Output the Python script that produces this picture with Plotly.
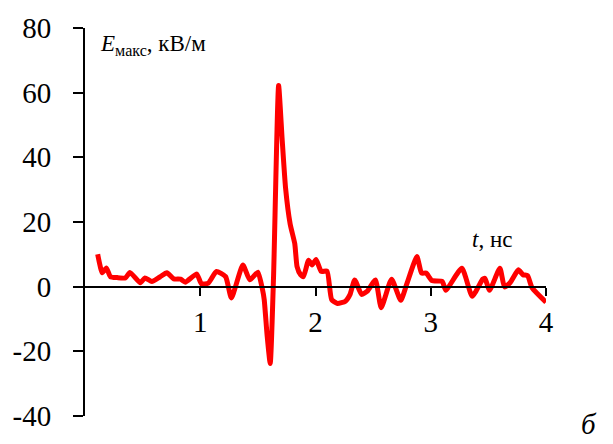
import plotly.graph_objects as go

t_ns = [0.11, 0.15, 0.185, 0.22, 0.28, 0.35, 0.39, 0.48, 0.52, 0.58, 0.65, 0.71, 0.77, 0.83, 0.87,
        0.97, 1.01, 1.07, 1.14, 1.22, 1.27, 1.37, 1.43, 1.50, 1.54, 1.555, 1.58, 1.607, 1.636,
        1.68, 1.71, 1.74, 1.78, 1.82, 1.84, 1.87, 1.895, 1.94, 1.97, 2.005, 2.05, 2.10, 2.14,
        2.19, 2.26, 2.30, 2.34, 2.40, 2.45, 2.52, 2.57, 2.66, 2.74, 2.79, 2.88, 2.92, 2.96,
        3.01, 3.10, 3.13, 3.27, 3.36, 3.45, 3.47, 3.51, 3.60, 3.64, 3.69, 3.76, 3.80, 3.84,
        3.88, 4.0]
e_kv = [10, 4.3, 5.8, 3.1, 2.8, 2.7, 4.4, 1.2, 2.7, 1.6, 3.0, 4.3, 2.4, 2.3, 1.4,
        3.9, 0.9, 1.1, 4.7, 3.1, -3.5, 6.7, 2.1, 4.5, -0.9, -4, -15, -23.8, 3.1,
        62.2, 45.9, 30.6, 19.4, 13.3, 6.2, 3.7, 3.1, 8.2, 6.7, 8.4, 4.7, 4.8, -4,
        -5.2, -4.5, -2.4, 2.1, -2.4, -1.4, 2.1, -6.5, 2.3, -4.2, 0.6, 9.3, 4.2, 4.2,
        1.9, 1.6, -1.1, 5.7, -3, 2.3, 2.6, -1.1, 5.7, -0.1, 1.3, 5.2, 3.7, 3.4,
        -0.4, -4.8]

x_ticks = [1, 2, 3, 4]
y_ticks = [-40, -20, 0, 20, 40, 60, 80]

FONT = "Liberation Serif"

fig = go.Figure()
fig.add_trace(go.Scatter(x=t_ns, y=e_kv, mode="lines",
                         line=dict(color="#FF0000", width=5, shape="spline", smoothing=0.5),
                         showlegend=False, hoverinfo="skip"))

fig.update_layout(
    width=613, height=444,
    margin=dict(l=85, r=67, t=25, b=26),
    paper_bgcolor="white", plot_bgcolor="white",
    font=dict(family=FONT, size=29, color="black"),
    xaxis=dict(range=[0, 4], tickvals=x_ticks, ticktext=[str(v) for v in x_ticks],
               showgrid=False, zeroline=False, showline=True, linecolor="black", linewidth=2,
               ticks="outside", ticklen=8, tickwidth=2, tickcolor="black",
               anchor="free", position=1/3, ticklabelstandoff=2,
               tickfont=dict(family=FONT, size=29)),
    yaxis=dict(range=[-40, 80], tickvals=y_ticks, ticktext=[str(v) for v in y_ticks],
               showgrid=False, zeroline=False, showline=True, linecolor="black", linewidth=2,
               ticks="outside", ticklen=10, tickwidth=2, tickcolor="black",
               ticklabelstandoff=16, tickfont=dict(family=FONT, size=29)),
)

fig.add_annotation(xref="paper", yref="paper", x=(98-85)/461, y=(444-26-42)/393,
                   xanchor="left", yanchor="middle", showarrow=False,
                   text="<i>E</i><sub>макс</sub>, кВ/м", font=dict(family=FONT, size=23))
fig.add_annotation(xref="paper", yref="paper", x=(470-85)/461, y=(444-26-239)/393,
                   xanchor="left", yanchor="middle", showarrow=False,
                   text="<i>t</i>, нс", font=dict(family=FONT, size=23))
fig.add_annotation(xref="paper", yref="paper", x=(579-85)/461, y=(444-26-426)/393,
                   xanchor="left", yanchor="middle", showarrow=False,
                   text="<i>б</i>", font=dict(family=FONT, size=29))

fig.write_html("out.html")
